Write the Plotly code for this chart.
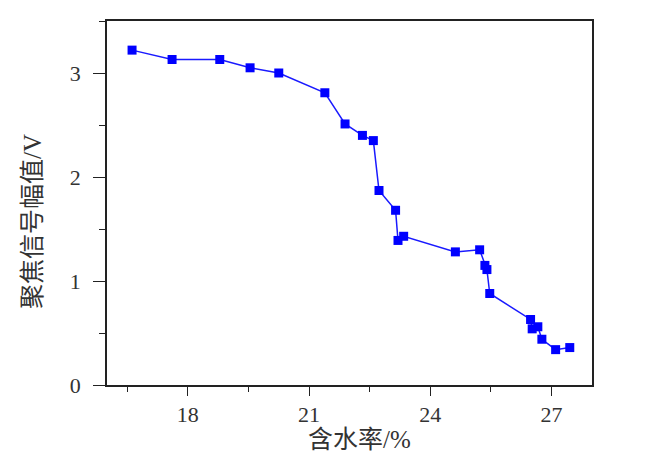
import plotly.graph_objects as go

water_content = [16.62, 17.61, 18.79, 19.54, 20.25, 21.39, 21.89, 22.32, 22.59, 22.73,
                 23.14, 23.20, 23.34, 24.62, 25.22, 25.35, 25.40, 25.47, 26.48, 26.52,
                 26.66, 26.76, 27.10, 27.45]
amplitude = [3.22, 3.13, 3.13, 3.05, 3.00, 2.81, 2.51, 2.40, 2.35, 1.87,
             1.68, 1.39, 1.43, 1.28, 1.30, 1.15, 1.11, 0.88, 0.63, 0.54,
             0.56, 0.44, 0.34, 0.36]
x_ticks = [18, 21, 24, 27]
y_ticks = [0, 1, 2, 3]
x_title = "含水率/%"
y_title = "聚焦信号幅值/V"

font_fam = "Liberation Serif, Noto Sans CJK SC, serif"

fig = go.Figure()
fig.add_trace(go.Scatter(
    x=water_content, y=amplitude, mode="lines+markers",
    line=dict(color="#1a1aff", width=1.5),
    marker=dict(symbol="square", size=9, color="#0000ff"),
    showlegend=False,
))

axis_common = dict(
    showline=True, linecolor="#222", linewidth=1.5, mirror=True,
    ticks="outside", tickwidth=1.3, tickcolor="#222",
    showgrid=False, zeroline=False, automargin=False,
    tickfont=dict(family=font_fam, size=22, color="#333"),
)

fig.update_xaxes(
    range=[16, 28], tickvals=x_ticks, ticktext=[str(v) for v in x_ticks], ticklen=9,
    minor=dict(ticks="outside", ticklen=5, tickwidth=1.2, tickcolor="#222", dtick=1.5, tick0=16.5),
    **axis_common,
)
fig.update_yaxes(
    range=[0, 3.5], tickvals=y_ticks, ticktext=[str(v) for v in y_ticks], ticklen=12,
    ticklabelstandoff=8,
    minor=dict(ticks="outside", ticklen=6, tickwidth=1.2, tickcolor="#222", dtick=0.5, tick0=0),
    **axis_common,
)

fig.add_annotation(text=x_title, xref="paper", yref="paper", x=0.52, y=-0.151,
                   xanchor="center", yanchor="middle", showarrow=False,
                   font=dict(family=font_fam, size=25, color="#333"))
fig.add_annotation(text=y_title, xref="paper", yref="paper", x=-0.155, y=0.45,
                   xanchor="center", yanchor="middle", showarrow=False, textangle=-90,
                   font=dict(family=font_fam, size=25, color="#333"))

fig.update_layout(
    width=652, height=461,
    margin=dict(l=99, r=68, t=13, b=84),
    paper_bgcolor="white", plot_bgcolor="white",
)

fig.write_html("out.html")
